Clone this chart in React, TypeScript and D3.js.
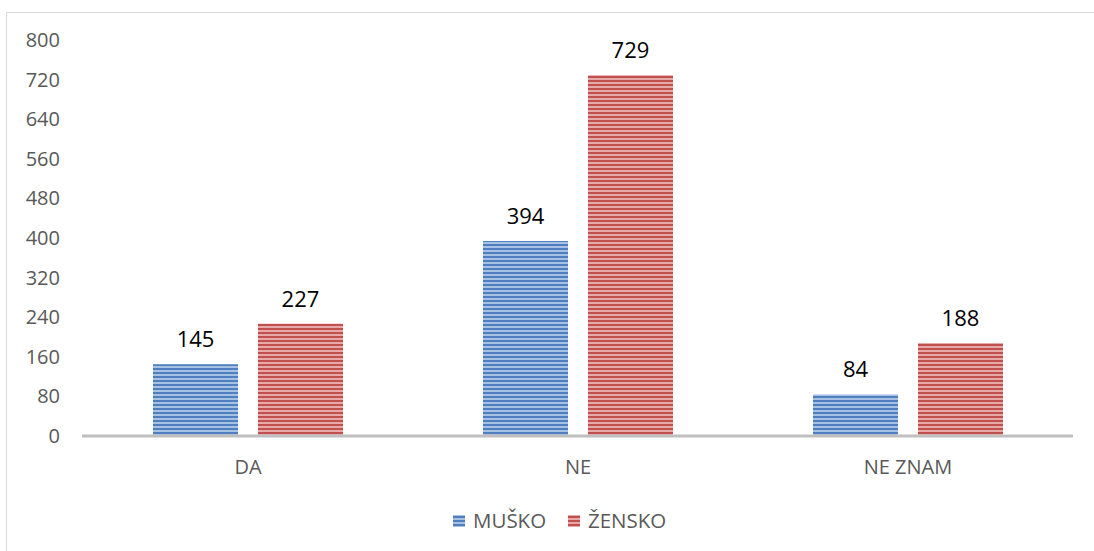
import React from "react";
import * as d3 from "d3";

const categories = ["DA", "NE", "NE ZNAM"];
const seriesNames = ["MUŠKO", "ŽENSKO"];
const musko = [145, 394, 84];
const zensko = [227, 729, 188];
const yTicks = [0, 80, 160, 240, 320, 400, 480, 560, 640, 720, 800];

const W = 1094;
const H = 551;
const FONT = "'Open Sans', 'Noto Sans', sans-serif";

export default function App() {
  const x = d3.scaleBand<string>().domain(categories).range([83, 1073]).paddingInner(0).paddingOuter(0);
  const xs = d3
    .scaleBand<string>()
    .domain(seriesNames)
    .range([0, x.bandwidth()])
    .paddingInner(20 / 105)
    .paddingOuter(0.6667);
  const y = d3.scaleLinear().domain([0, 800]).range([436, 40]);
  const values = [musko, zensko];
  const patIds = ["patBlue", "patRed"];
  const legendX = [453, 568];

  return (
    <svg width={W} height={H} style={{ position: "absolute", left: 0, top: 0, display: "block" }} fontFamily={FONT}>
      <defs>
        <pattern id="patBlue" patternUnits="userSpaceOnUse" width={8} height={4}>
          <rect width={8} height={4} fill="#a7c1e4" />
          <rect width={8} height={2} y={0} fill="#4f7fbf" />
        </pattern>
        <pattern id="patRed" patternUnits="userSpaceOnUse" width={8} height={4}>
          <rect width={8} height={4} fill="#e8aaa8" />
          <rect width={8} height={2} y={0} fill="#c0504d" />
        </pattern>
      </defs>
      <rect x={0} y={0} width={W} height={H} fill="#ffffff" />
      <rect x={6.5} y={12.5} width={W + 20} height={H + 20} fill="none" stroke="#d9d9d9" strokeWidth={1} />

      {yTicks.map((t) => (
        <text key={t} x={60} y={y(t)} dy="0.35em" textAnchor="end" fontSize={20} fill="#595959">
          {t}
        </text>
      ))}

      {categories.map((c, i) => (
        <g key={c}>
          {seriesNames.map((s, j) => {
            const bx = (x(c) as number) + (xs(s) as number);
            const v = values[j][i];
            return (
              <g key={s}>
                <rect x={bx} y={y(v)} width={xs.bandwidth()} height={y(0) - y(v)} fill={`url(#${patIds[j]})`} />
                <text x={bx + xs.bandwidth() / 2} y={y(v) - 17} textAnchor="middle" fontSize={22} fill="#000000">
                  {v}
                </text>
              </g>
            );
          })}
          <text x={(x(c) as number) + x.bandwidth() / 2} y={467} dy="0.35em" textAnchor="middle" fontSize={20} fill="#595959">
            {c}
          </text>
        </g>
      ))}

      <line x1={82} x2={1073} y1={436} y2={436} stroke="#bfbfbf" strokeWidth={3} />

      {seriesNames.map((s, j) => (
        <g key={s}>
          <rect x={legendX[j]} y={515} width={12} height={12} fill={`url(#${patIds[j]})`} />
          <text x={legendX[j] + 20} y={521} dy="0.35em" fontSize={20.5} fill="#595959">
            {s}
          </text>
        </g>
      ))}
    </svg>
  );
}
